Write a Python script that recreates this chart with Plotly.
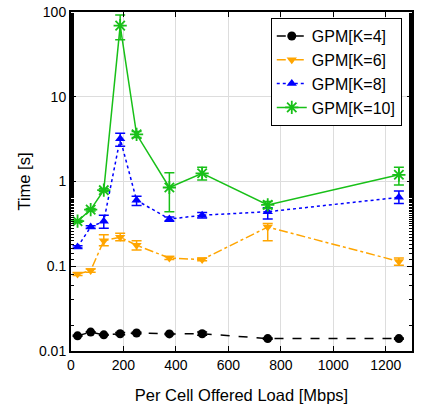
import plotly.graph_objects as go

load = [25, 75, 125, 187.5, 250, 375, 500, 750, 1250]

k4 = [0.0151, 0.0167, 0.0155, 0.0160, 0.0163, 0.0159, 0.0160, 0.0140, 0.0140]
k4_hi = [0.0153, 0.0169, 0.0157, 0.0165, 0.0166, 0.0161, 0.0167, 0.0142, 0.0142]
k4_lo = [0.0149, 0.0165, 0.0153, 0.0155, 0.0160, 0.0157, 0.0153, 0.0138, 0.0138]

k6 = [0.081, 0.089, 0.20, 0.22, 0.177, 0.125, 0.12, 0.29, 0.114]
k6_hi = [0.084, 0.093, 0.235, 0.245, 0.20, 0.13, 0.124, 0.32, 0.125]
k6_lo = [0.078, 0.085, 0.175, 0.20, 0.155, 0.12, 0.116, 0.20, 0.103]

k8 = [0.169, 0.29, 0.34, 3.2, 0.60, 0.36, 0.40, 0.44, 0.65]
k8_hi = [0.174, 0.30, 0.40, 3.7, 0.67, 0.38, 0.43, 0.49, 0.77]
k8_lo = [0.164, 0.28, 0.28, 2.6, 0.52, 0.34, 0.37, 0.36, 0.55]

k10 = [0.34, 0.466, 0.79, 69, 3.6, 0.85, 1.25, 0.53, 1.2]
k10_hi = [0.35, 0.48, 0.82, 92, 3.9, 1.27, 1.47, 0.58, 1.47]
k10_lo = [0.33, 0.45, 0.76, 47, 3.3, 0.44, 1.04, 0.48, 0.91]

names = ["GPM[K=4]", "GPM[K=6]", "GPM[K=8]", "GPM[K=10]"]
series = [(k4, k4_hi, k4_lo), (k6, k6_hi, k6_lo), (k8, k8_hi, k8_lo), (k10, k10_hi, k10_lo)]
colors = ["#000000", "#FFA500", "#0000FF", "#18C018"]
dashes = ["dash", "dashdot", "dot", "solid"]
symbols = ["circle", "triangle-down", "triangle-up", "asterisk-open"]
sizes = [9, 9, 9, 11]

xticks = [0, 200, 400, 600, 800, 1000, 1200]
yticks = [0.01, 0.1, 1, 10, 100]
yticklabels = ["0.01", "0.1", "1", "10", "100"]

FONT = "Liberation Sans, Arial"

fig = go.Figure()
for name, (v, hi, lo), c, d, s, sz in zip(names, series, colors, dashes, symbols, sizes):
    fig.add_trace(go.Scatter(
        x=load, y=v, name=name, mode="lines+markers",
        line=dict(color=c, dash=d, width=1.5),
        marker=dict(symbol=s, size=sz, color=c, line=dict(color=c, width=1.8 if s == "asterisk-open" else 0)),
        error_y=dict(type="data", symmetric=False,
                     array=[h - y for h, y in zip(hi, v)],
                     arrayminus=[y - l for l, y in zip(lo, v)],
                     color=c, thickness=1.5, width=5),
    ))

axis_common = dict(
    showline=True, linecolor="black", linewidth=2, mirror="allticks",
    ticks="inside", ticklen=5, tickcolor="black", automargin=False,
    showgrid=True, gridcolor="#DDDDDD", gridwidth=1,
    zeroline=False, tickfont=dict(family=FONT, size=14, color="black"),
)

fig.update_xaxes(range=[0, 1300], tickvals=xticks,
                 title=dict(text="Per Cell Offered Load [Mbps]", font=dict(family=FONT, size=16.5, color="black"), standoff=18),
                 **axis_common)
fig.update_yaxes(type="log", range=[-2, 2], tickvals=yticks, ticktext=yticklabels,
                 minor=dict(ticks="inside", ticklen=3, tickcolor="black", showgrid=False),
                 title=dict(text="Time [s]", font=dict(family=FONT, size=16.5, color="black"), standoff=4),
                 **axis_common)

fig.update_layout(
    width=426, height=406,
    margin=dict(l=71, r=14, t=12, b=55, autoexpand=False),
    plot_bgcolor="white", paper_bgcolor="white",
    legend=dict(x=0.97, y=0.982, xanchor="right", yanchor="top",
                bgcolor="white", bordercolor="black", borderwidth=1,
                font=dict(family=FONT, size=16, color="black"),
                tracegroupgap=0),
    showlegend=True,
)

fig.write_html("out.html")
